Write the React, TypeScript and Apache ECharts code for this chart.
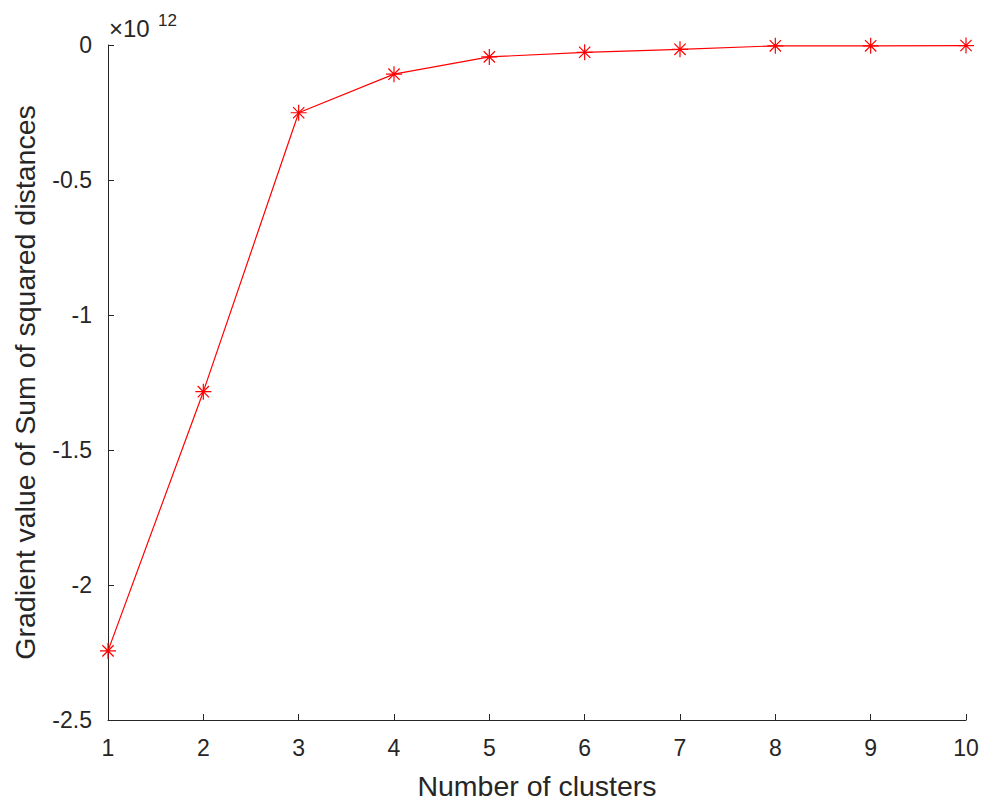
import React, { useEffect, useRef } from "react";
import * as echarts from "echarts";

const clusters = [1, 2, 3, 4, 5, 6, 7, 8, 9, 10];
// values in units of 1e12
const gradientValues = [-2.244, -1.284, -0.251, -0.108, -0.044, -0.027, -0.016, -0.003, -0.003, -0.002];
const yTicks = [-2.5, -2, -1.5, -1, -0.5, 0];
const exponentBase = "×10";
const exponentPower = "12";
const xName = "Number of clusters";
const yName = "Gradient value of Sum of squared distances";

const FONT = "'Liberation Sans', Arial, Helvetica, sans-serif";
const INK = "#262626";

export default function App() {
  const ref = useRef<HTMLDivElement>(null);
  useEffect(() => {
    if (!ref.current) return;
    const chart = echarts.init(ref.current, undefined, { renderer: "svg" });
    const data = clusters.map((c, i) => [c, gradientValues[i]]);
    chart.setOption({
      animation: false,
      backgroundColor: "#ffffff",
      grid: { left: 100, right: 21, top: 37, bottom: 85, containLabel: false, outerBoundsMode: "none" },
      graphic: [
        {
          type: "text",
          x: 101,
          y: 20,
          style: {
            text: exponentBase,
            fontSize: 24,
            fontFamily: FONT,
            fill: INK,
            align: "left",
            verticalAlign: "middle",
          },
        },
        {
          type: "text",
          x: 150,
          y: 12,
          style: {
            text: exponentPower,
            fontSize: 17,
            fontFamily: FONT,
            fill: INK,
            align: "left",
            verticalAlign: "middle",
          },
        },
      ],
      xAxis: {
        type: "value",
        min: 1,
        max: 10,
        interval: 1,
        name: xName,
        nameLocation: "middle",
        nameGap: 51,
        nameTextStyle: { fontSize: 28.5, fontFamily: FONT, color: INK },
        axisLine: { show: true, onZero: false, lineStyle: { color: INK, width: 1 } },
        axisTick: { show: true, inside: true, length: 6, lineStyle: { color: INK } },
        axisLabel: { fontSize: 23, fontFamily: FONT, color: INK, margin: 16 },
        splitLine: { show: false },
      },
      yAxis: {
        type: "value",
        min: yTicks[0],
        max: yTicks[yTicks.length - 1],
        interval: 0.5,
        name: yName,
        nameLocation: "middle",
        nameGap: 69,
        nameRotate: 90,
        nameTextStyle: { fontSize: 28.5, fontFamily: FONT, color: INK },
        axisLine: { show: true, onZero: false, lineStyle: { color: INK, width: 1 } },
        axisTick: { show: true, inside: true, length: 6, lineStyle: { color: INK } },
        axisLabel: {
          fontSize: 23,
          fontFamily: FONT,
          color: INK,
          margin: 16,
          formatter: (v: number) => String(v),
        },
        splitLine: { show: false },
      },
      series: [
        {
          type: "line",
          data,
          symbol: "path://M0,-10L0,10M-10,0L10,0M-7.07,-7.07L7.07,7.07M-7.07,7.07L7.07,-7.07",
          symbolSize: 16,
          symbolKeepAspect: true,
          itemStyle: { color: "rgba(0,0,0,0)", borderColor: "#ff0000", borderWidth: 1.2 },
          lineStyle: { color: "#ff0000", width: 1.2 },
          clip: false,
        },
      ],
    });
    return () => chart.dispose();
  }, []);
  return <div ref={ref} style={{ width: 979, height: 797 }} />;
}
